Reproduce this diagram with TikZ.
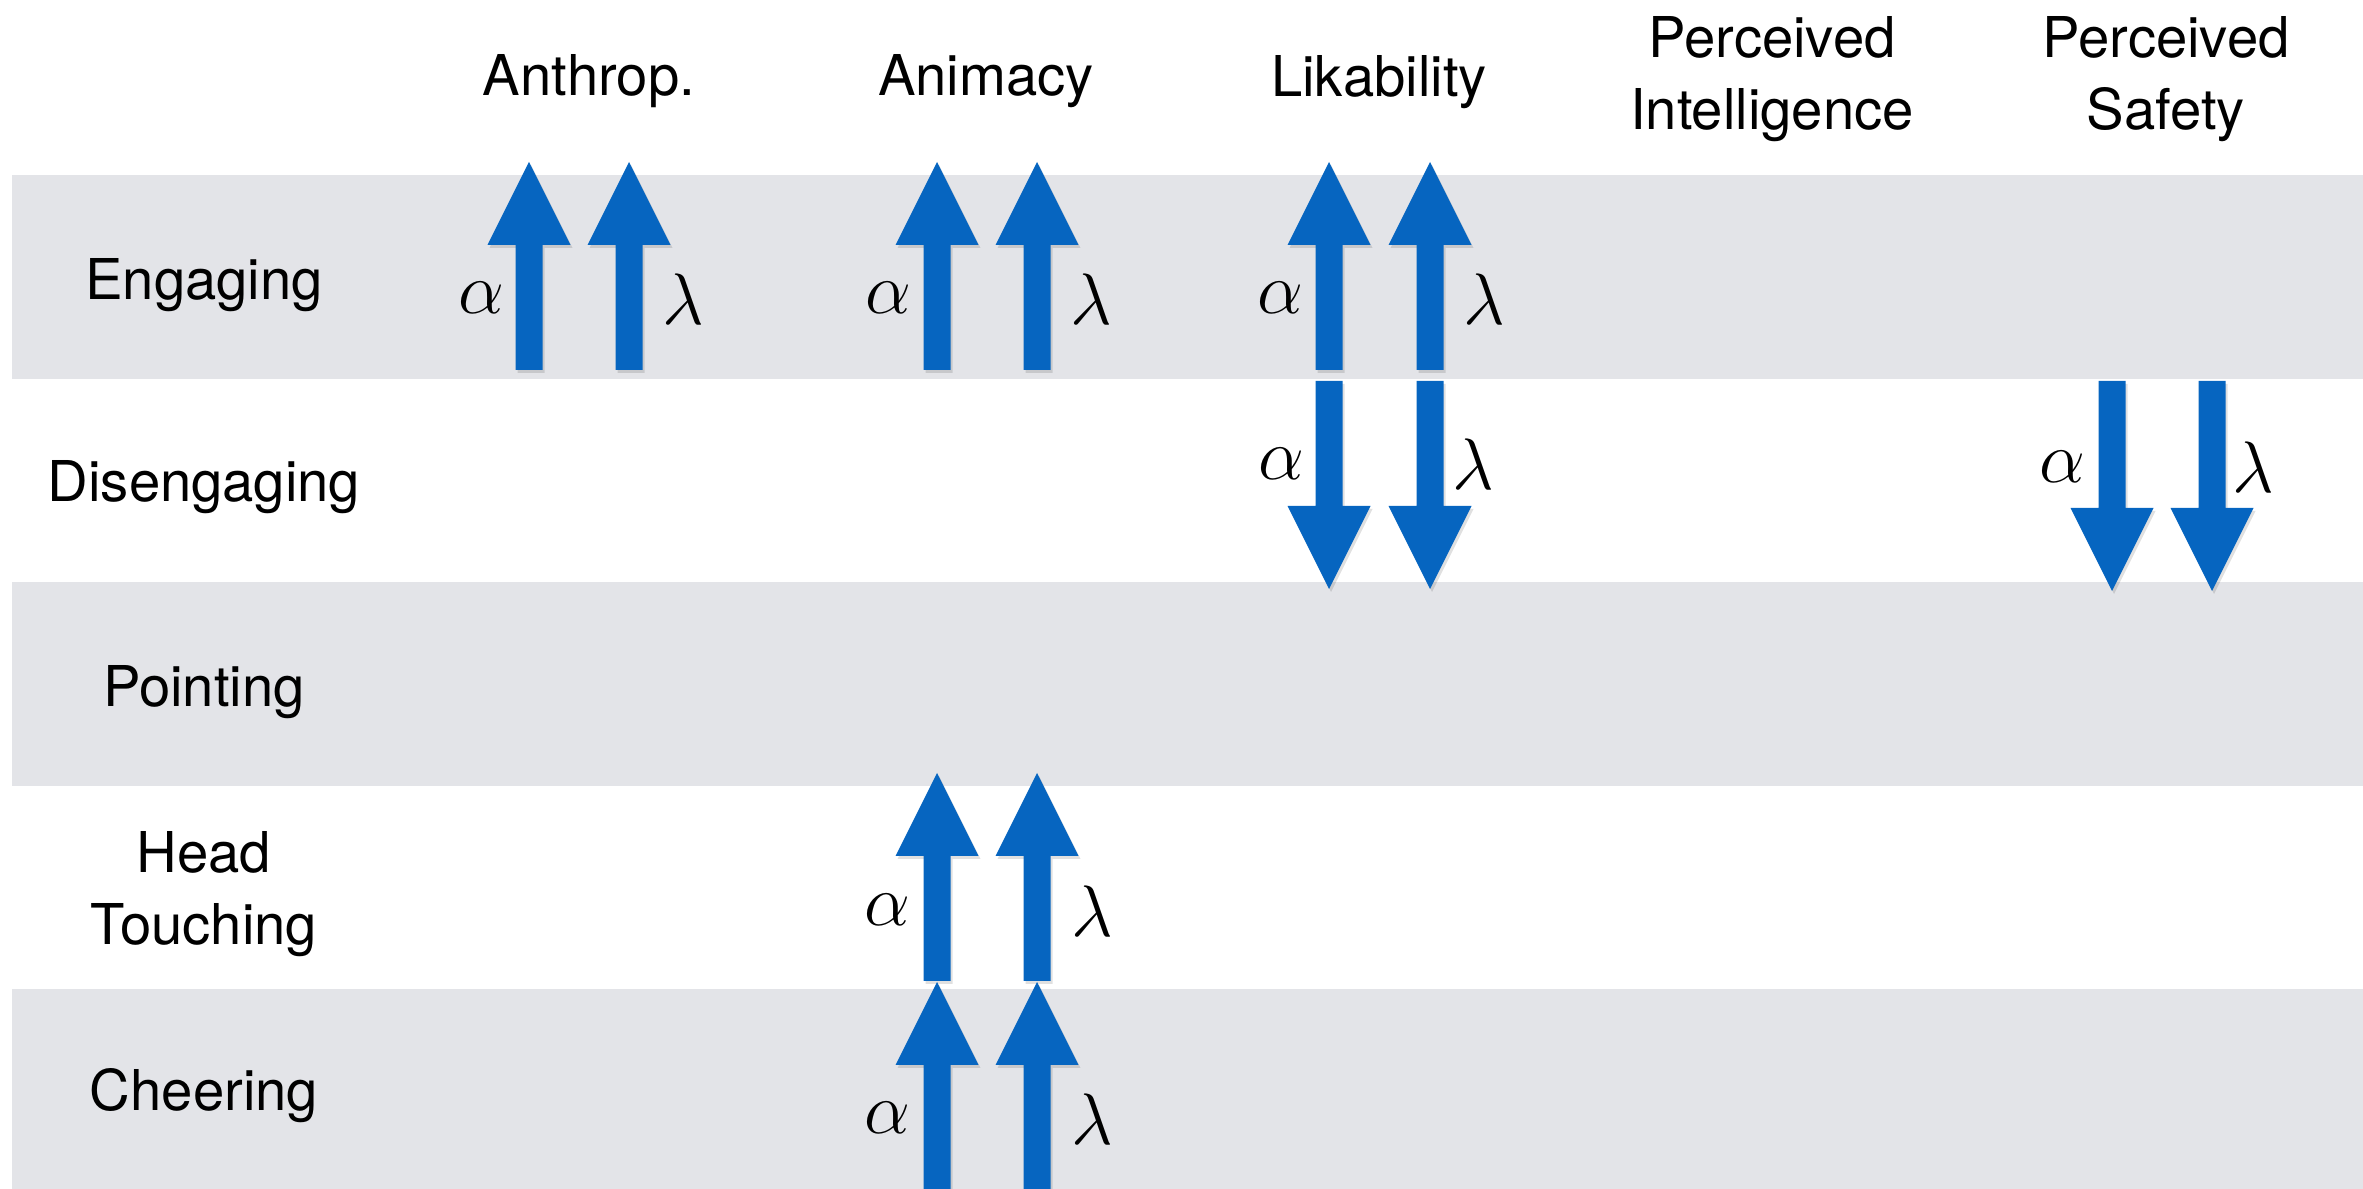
\documentclass[tikz,border=0pt]{standalone}
\usepackage{fontspec}
\setmainfont{TeX Gyre Heros}
\definecolor{bandgray}{RGB}{227,228,232}
\definecolor{arrblue}{RGB}{6,101,192}
\newcommand\ArrUp[3]{%
  \fill[black,opacity=0.12] ({#1-13.5+2},{#3+3}) -- ({#1+13.5+2},{#3+3}) -- ({#1+13.5+2},{#2+86}) -- ({#1+41.5+2},{#2+86}) -- ({#1+2},{#2+3}) -- ({#1-41.5+2},{#2+86}) -- ({#1-13.5+2},{#2+86}) -- cycle;
  \fill[arrblue] ({#1-13.5},#3) -- ({#1+13.5},#3) -- ({#1+13.5},{#2+83}) -- ({#1+41.5},{#2+83}) -- (#1,#2) -- ({#1-41.5},{#2+83}) -- ({#1-13.5},{#2+83}) -- cycle;}
\newcommand\ArrDown[3]{%
  \fill[black,opacity=0.12] ({#1-13.5+2},{#2+3}) -- ({#1+13.5+2},{#2+3}) -- ({#1+13.5+2},{#3-80}) -- ({#1+41.5+2},{#3-80}) -- ({#1+2},{#3+3}) -- ({#1-41.5+2},{#3-80}) -- ({#1-13.5+2},{#3-80}) -- cycle;
  \fill[arrblue] ({#1-13.5},#2) -- ({#1+13.5},#2) -- ({#1+13.5},{#3-83}) -- ({#1+41.5},{#3-83}) -- (#1,#3) -- ({#1-41.5},{#3-83}) -- ({#1-13.5},{#3-83}) -- cycle;}
\begin{document}
\begin{tikzpicture}[x=0.01cm,y=-0.01cm,
  lbl/.style={anchor=base,inner sep=0pt,font=\fontsize{16}{20}\selectfont},
  sym/.style={inner sep=0pt,font=\fontsize{20}{24}\selectfont}]
\useasboundingbox (0,0) rectangle (2363,1189);
% bands
\fill[bandgray] (12,175) rectangle (2363,379);
\fill[bandgray] (12,582) rectangle (2363,786);
\fill[bandgray] (12,989) rectangle (2363,1189);
% column headers
\node[lbl] (hA) at (589,96) {Anthrop.};
\node[lbl] (hB) at (986,96) {Animacy};
\node[lbl] (hC) at (1379,97) {Likability};
\node[lbl] (hD1) at (1772,58) {Perceived};
\node[lbl] (hD2) at (1772,130) {Intelligence};
\node[lbl] (hE1) at (2166,58) {Perceived};
\node[lbl] (hE2) at (2166,130) {Safety};
% row labels
\node[lbl] (r1) at (204,300) {Engaging};
\node[lbl] (r2) at (204,502) {Disengaging};
\node[lbl] (r3) at (204,707) {Pointing};
\node[lbl] (r4a) at (204,873) {Head};
\node[lbl] (r4b) at (204,945) {Touching};
\node[lbl] (r5) at (204,1110) {Cheering};
% Engaging
\ArrUp{529}{162}{370}\ArrUp{629}{162}{370}
\ArrUp{937}{162}{370}\ArrUp{1037}{162}{370}
\ArrUp{1329}{162}{370}\ArrUp{1430}{162}{370}
\node[sym] (a11) at (481,298) {$\alpha$};
\node[sym] (l11) at (683,299) {$\lambda$};
\node[sym] (a12) at (888,298) {$\alpha$};
\node[sym] (l12) at (1091,299) {$\lambda$};
\node[sym] (a13) at (1280,298) {$\alpha$};
\node[sym] (l13) at (1484,299) {$\lambda$};
% Disengaging
\ArrDown{1329}{381}{589}\ArrDown{1430}{381}{589}
\ArrDown{2112}{381}{591}\ArrDown{2212}{381}{591}
\node[sym] (a23) at (1281,464) {$\alpha$};
\node[sym] (l23) at (1473,464) {$\lambda$};
\node[sym] (a25) at (2062,467) {$\alpha$};
\node[sym] (l25) at (2253,467) {$\lambda$};
% Head Touching
\ArrUp{937}{773}{981}\ArrUp{1037}{773}{981}
\node[sym] (a42) at (887,910) {$\alpha$};
\node[sym] (l42) at (1092,911) {$\lambda$};
% Cheering
\ArrUp{937}{982}{1200}\ArrUp{1037}{982}{1200}
\node[sym] (a52) at (887,1118) {$\alpha$};
\node[sym] (l52) at (1092,1119) {$\lambda$};
\end{tikzpicture}
\end{document}
